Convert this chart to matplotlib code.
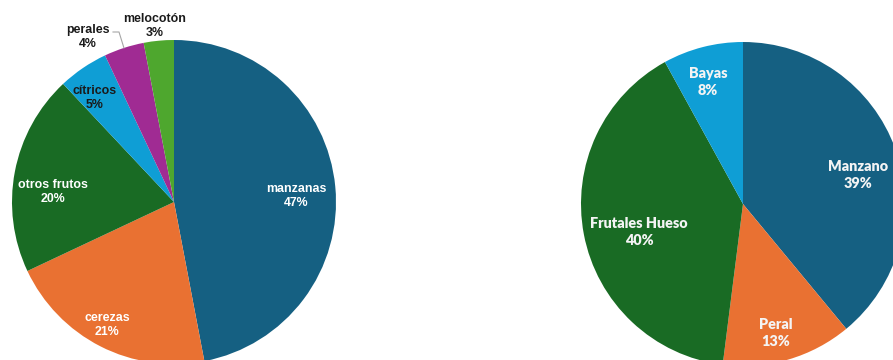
import matplotlib
matplotlib.use("Agg")
import matplotlib.pyplot as plt
import numpy as np

# Superficie por especie (%), gráfico izquierdo
especies = ["manzanas", "cerezas", "otros frutos", "cítricos", "perales", "melocotón"]
especies_pct = [47, 21, 20, 5, 4, 3]
especies_colores = ["#156082", "#E97132", "#196B24", "#0F9ED5", "#A02B93", "#4EA72E"]

# Superficie por grupo de frutales (%), gráfico derecho
grupos = ["Manzano", "Peral", "Frutales Hueso", "Bayas"]
grupos_pct = [39, 13, 40, 8]
grupos_colores = ["#156082", "#E97132", "#196B24", "#0F9ED5"]

W, H = 893, 360
fig = plt.figure(figsize=(W / 100, H / 100), dpi=100)
ax = fig.add_axes([0, 0, 1, 1])

R = 162
c_izq = (174, H - 202)
c_der = (743, H - 204)

w_izq, _ = ax.pie(especies_pct, colors=especies_colores, startangle=90,
                  counterclock=False, center=c_izq, radius=R,
                  wedgeprops=dict(linewidth=0))
w_der, _ = ax.pie(grupos_pct, colors=grupos_colores, startangle=90,
                  counterclock=False, center=c_der, radius=R,
                  wedgeprops=dict(linewidth=0))

ax.set_xlim(0, W)
ax.set_ylim(0, H)
ax.set_aspect("equal")
ax.axis("off")

# etiquetas izquierda: desplazamiento (px) desde el centro y color
off_izq = [(122, 6), (-67, -123), (-121, 10), (-79, 104), (-86, 165), (-19, 176)]
col_izq = ["white", "white", "white", "#1a1a1a", "#1a1a1a", "#1a1a1a"]
for nom, v, (dx, dy), col in zip(especies, especies_pct, off_izq, col_izq):
    ax.text(c_izq[0] + dx, c_izq[1] + dy, f"{nom}\n{v}%", ha="center", va="center",
            fontsize=8.9, fontweight="bold", color=col, linespacing=1.15,
            family=["Liberation Sans", "DejaVu Sans"])

# línea guía de "perales"
w = w_izq[4]
ang = np.deg2rad((w.theta1 + w.theta2) / 2)
px = c_izq[0] + R * np.cos(ang)
py = c_izq[1] + R * np.sin(ang)
ax.plot([113, 119, px], [H - 32, H - 32, py], color="#a6a6a6", lw=0.8)

# etiquetas derecha
off_der = [(115, 29), (33, -129), (-104, -28), (-35, 122)]
for nom, v, (dx, dy) in zip(grupos, grupos_pct, off_der):
    ax.text(c_der[0] + dx, c_der[1] + dy, f"{nom}\n{v}%", ha="center", va="center",
            fontsize=10.4, fontweight="heavy", color="#f4f4f4", linespacing=1.38,
            family=["Lato", "DejaVu Sans"])

fig.savefig("out.png", dpi=100)
